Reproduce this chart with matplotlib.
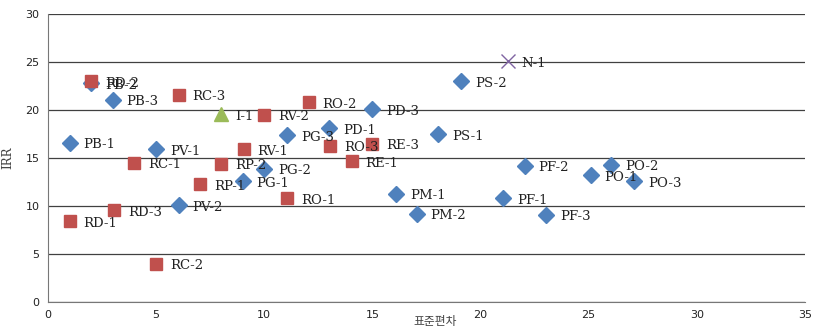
import matplotlib
matplotlib.use('Agg')
import matplotlib.pyplot as plt

plt.rcParams['font.family'] = ['DejaVu Sans', 'Noto Sans CJK KR']

# P series (blue diamonds)
p_names = ['PB-1', 'PB-2', 'PB-3', 'PV-1', 'PV-2', 'PG-1', 'PG-2', 'PG-3', 'PD-1', 'PD-3',
           'PM-1', 'PM-2', 'PS-1', 'PS-2', 'PF-1', 'PF-2', 'PF-3', 'PO-1', 'PO-2', 'PO-3']
p_x = [1.0, 2.0, 3.0, 5.0, 6.05, 9.0, 10.0, 11.05, 13.0, 15.0,
       16.1, 17.05, 18.05, 19.1, 21.05, 22.05, 23.05, 25.1, 26.05, 27.1]
p_y = [16.6, 22.8, 21.1, 15.9, 10.1, 12.6, 13.9, 17.4, 18.1, 20.1,
       11.3, 9.2, 17.5, 23.0, 10.8, 14.2, 9.1, 13.2, 14.3, 12.6]

# R series (red squares)
r_names = ['RD-1', 'RD-2', 'RD-3', 'RC-1', 'RC-2', 'RC-3', 'RP-1', 'RP-2', 'RV-1', 'RV-2',
           'RO-1', 'RO-2', 'RO-3', 'RE-1', 'RE-3']
r_x = [1.0, 2.0, 3.05, 4.0, 5.0, 6.05, 7.05, 8.0, 9.05, 10.0,
       11.05, 12.05, 13.05, 14.05, 15.0]
r_y = [8.4, 23.0, 9.6, 14.5, 4.0, 21.6, 12.3, 14.4, 15.9, 19.5,
       10.8, 20.8, 16.3, 14.7, 16.5]

# I and N points
i_names = ['I-1']
i_x = [8.0]
i_y = [19.6]
n_names = ['N-1']
n_x = [21.25]
n_y = [25.1]

fig = plt.figure(figsize=(8.13, 3.28), dpi=100)
ax = fig.add_axes([0.059, 0.079, 0.931, 0.878])

series = [
    (p_names, p_x, p_y, dict(marker='D', color='#4F81BD', markersize=8)),
    (r_names, r_x, r_y, dict(marker='s', color='#C0504D', markersize=8.5)),
    (i_names, i_x, i_y, dict(marker='^', color='#9BBB59', markersize=9.5)),
    (n_names, n_x, n_y, dict(marker='x', color='#8064A2', markersize=10, markeredgewidth=1.0)),
]
for names, xs, ys, style in series:
    ax.plot(xs, ys, linestyle='none', zorder=3, **style)
    for name, xv, yv in zip(names, xs, ys):
        ax.annotate(name, (xv, yv), xytext=(10, -1.5), textcoords='offset points',
                    ha='left', va='center', fontsize=9.5, family='DejaVu Serif',
                    color='#222222', zorder=4)

ax.set_xlim(0, 35)
ax.set_ylim(0, 30)
ax.set_xticks(range(0, 36, 5))
ax.set_yticks(range(0, 31, 5))
ax.yaxis.grid(True, color='#404040', linewidth=0.9)
ax.set_axisbelow(True)
for s in ['top', 'right']:
    ax.spines[s].set_visible(False)
for s in ['left', 'bottom']:
    ax.spines[s].set_color('#777777')
ax.tick_params(axis='both', length=0, labelsize=8, colors='#222222', pad=6)

ax.text(17.9, -2.0, '표준편차', ha='center', va='center', fontsize=8.5,
        family=['Noto Sans CJK KR', 'DejaVu Sans'], color='#444444')
ax.set_ylabel('IRR', fontsize=8.5, family='DejaVu Serif', color='#444444', labelpad=8)

fig.savefig('out.png', dpi=100)
